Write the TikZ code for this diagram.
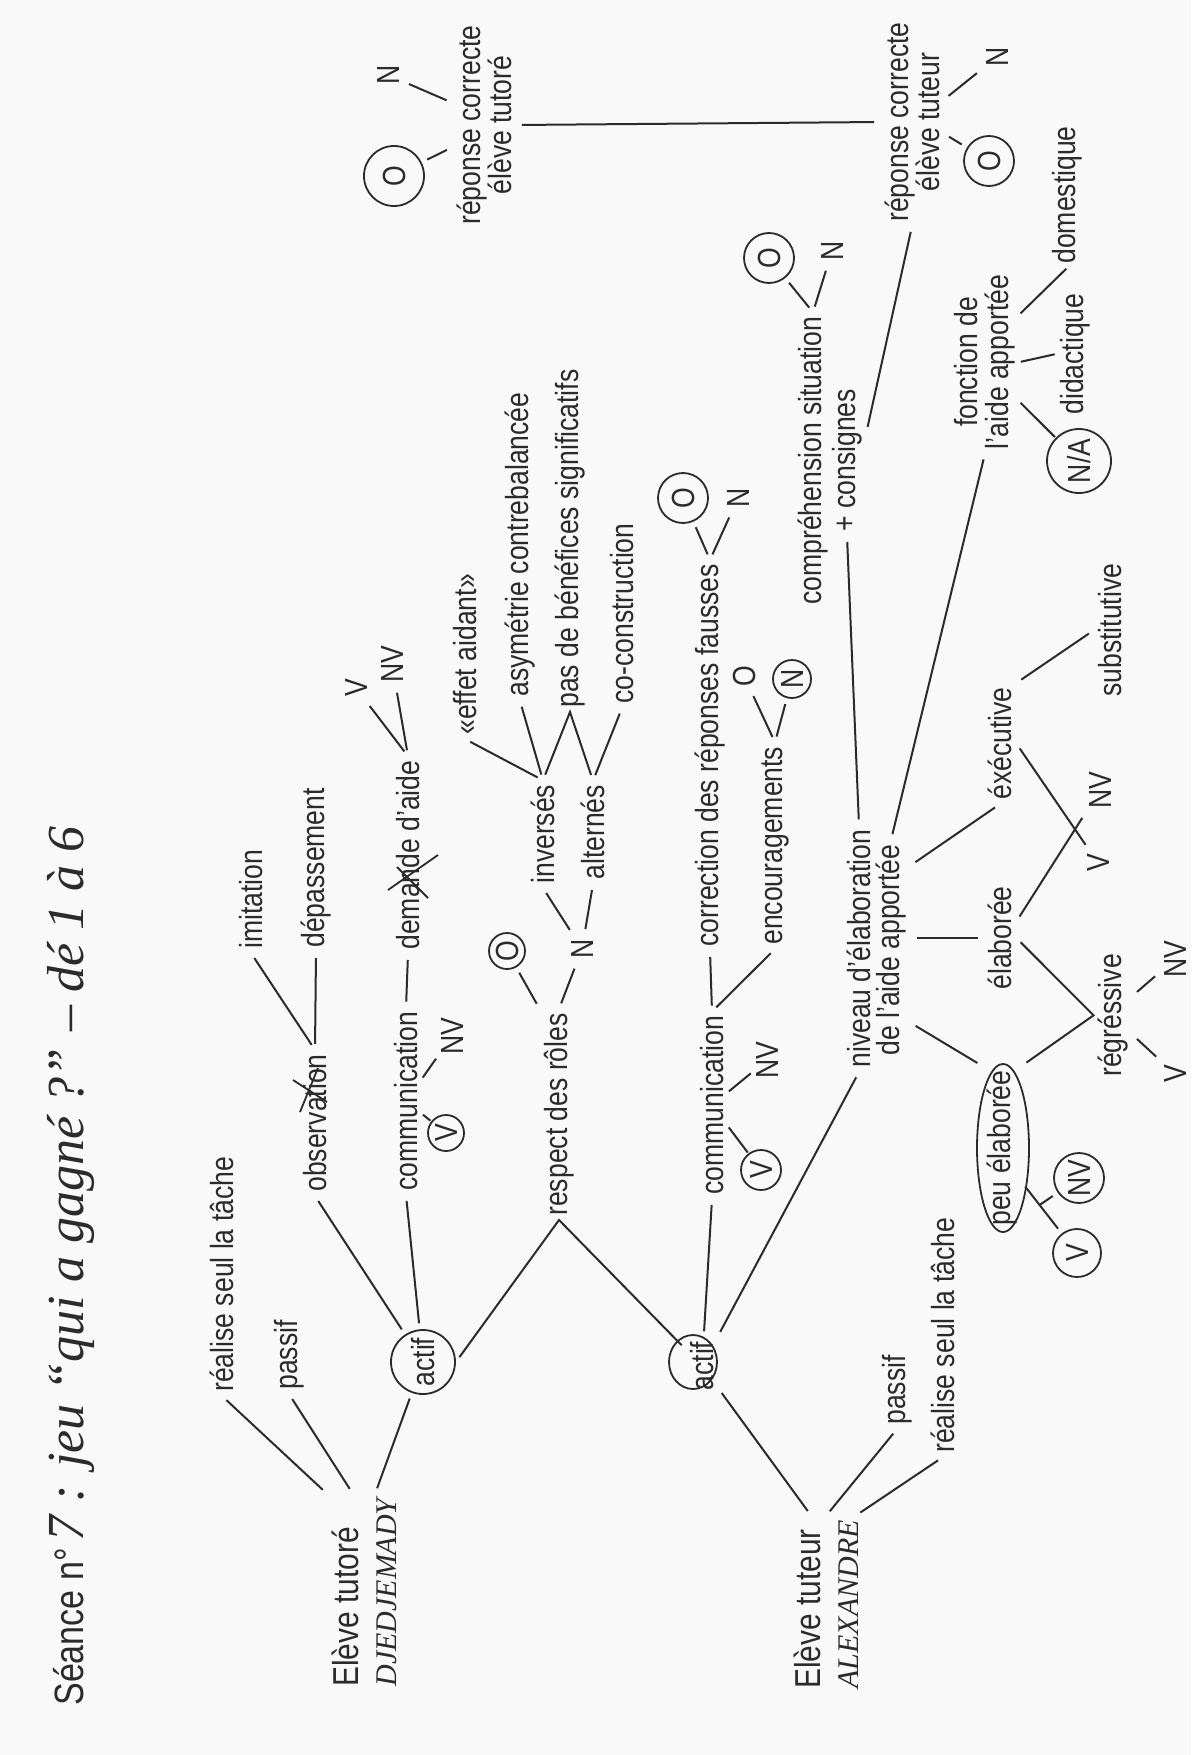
\documentclass[tikz,border=0pt]{standalone}
\usepackage{fontspec}
\setmainfont{Liberation Sans}[FakeStretch=0.83]
\newfontfamily\handfont{Liberation Serif}
\usetikzlibrary{calc}
\newcommand\etiq{\fontsize{16}{15.5}\selectfont}
\newcommand\grand{\fontsize{18}{19}\selectfont}
\newcommand\titre{\fontsize{20.5}{22}\selectfont}
\newcommand\ecrit{\handfont\itshape\fontsize{26}{28}\selectfont}
\newcommand\nom{\handfont\itshape\fontsize{15}{19}\selectfont}
\definecolor{encre}{gray}{0.17}
\definecolor{papier}{gray}{0.975}
\tikzset{
  lbl/.style={rotate=90, inner sep=2pt, font=\etiq, text=encre},
  entoure/.style={draw=encre, circle, line width=.9pt, inner sep=0pt, minimum size=#1},
  trait/.style={draw=encre, line width=1pt, shorten <=3pt, shorten >=3pt},
  court/.style={shorten <=.5pt, shorten >=.5pt},
  pen/.style={draw=encre, line width=.9pt},
}
\begin{document}
\begin{tikzpicture}[x=0.5pt, y=-0.5pt]
  \fill[papier] (0,0) rectangle (1191,1755);
  % title
  \node[lbl, anchor=west, font=\titre] (titre) at (71,1710) {Séance n°\,{\ecrit 7 : jeu “qui a gagné ?” – dé 1 à 6}};
  % eleve tutore
  \node[lbl, anchor=west, align=left, font=\grand] (eleveT) at (364,1691) {Elève tutoré\\{\nom DJEDJEMADY}};
  \node[lbl, anchor=west] (realT) at (222,1396) {réalise seul la tâche};
  \node[lbl, anchor=west] (passT) at (289,1394) {passif};
  \node[lbl, entoure=32pt] (actT) at (423,1362) {actif};
  \node[lbl, anchor=west] (obsT) at (315,1196) {observation};
  \node[lbl, anchor=west] (imitT) at (251,953) {imitation};
  \node[lbl, anchor=west] (depT) at (316,952) {dépassement};
  \node[lbl, anchor=west] (commT) at (406,1195) {communication};
  \node[lbl, anchor=west] (demT) at (408,954) {demande d’aide};
  \node[lbl] (vD) at (356,688) {V};
  \node[lbl] (nvD) at (392,664) {NV};
  \node[lbl, entoure=18pt] (vC1) at (446,1133) {V};
  \node[lbl] (nvC1) at (452,1036) {NV};
  \node[lbl, anchor=west] (respT) at (559,1220) {respect des rôles};
  \node[lbl, entoure=18pt] (oR) at (507,951) {O};
  \node[lbl] (nR) at (582,949) {N};
  \node[lbl, anchor=west] (invT) at (543,888) {inversés};
  \node[lbl, anchor=west] (altT) at (593,884) {alternés};
  \node[lbl, anchor=west] (effT) at (465,739) {«effet aidant»};
  \node[lbl, anchor=west] (asymT) at (520,701) {asymétrie contrebalancée};
  \node[lbl, anchor=west] (pasT) at (570,712) {pas de bénéfices significatifs};
  \node[lbl, anchor=west] (coT) at (622,708) {co-construction};
  % eleve tuteur
  \node[lbl, anchor=west, align=left, font=\grand] (eleveU) at (826,1693) {Elève tuteur\\{\nom ALEXANDRE}};
  \node[lbl] (actU) at (702,1366) {actif};
  \node[lbl, anchor=west] (passU) at (897,1429) {passif};
  \node[lbl, anchor=west] (realU) at (943,1457) {réalise seul la tâche};
  \node[lbl, anchor=west] (commU) at (712,1199) {communication};
  \node[lbl, anchor=west] (corrT) at (710,951) {correction des réponses fausses};
  \node[lbl, anchor=west] (encT) at (775,949) {encouragements};
  \node[lbl] (oE) at (744,676) {O};
  \node[lbl, entoure=19pt] (nE) at (792,679) {N};
  \node[lbl, entoure=25pt] (oC) at (683,498) {O};
  \node[lbl] (nC) at (738,498) {N};
  \node[lbl, entoure=20pt] (vC2) at (761,1170) {V};
  \node[lbl] (nvC2) at (767,1060) {NV};
  \node[lbl, anchor=west] (nivT) at (859,1072) {niveau d’élaboration};
  \node[lbl, anchor=west] (aideT) at (891,1060) {de l’aide apportée};
  \node[lbl, anchor=west] (compT) at (813,609) {compréhension situation};
  \node[lbl, anchor=west] (consT) at (847,536) {+ consignes};
  \node[lbl, entoure=25pt] (oCo) at (769,258) {O};
  \node[lbl] (nCo) at (832,251) {N};
  % reponses correctes
  \node[lbl, align=center] (repTt) at (484,125) {réponse correcte\\élève tutoré};
  \node[lbl, align=center] (repTu) at (912,122) {réponse correcte\\élève tuteur};
  \node[lbl, entoure=30pt] (oRT) at (394,176) {O};
  \node[lbl] (nRT) at (388,75) {N};
  \node[lbl, entoure=25pt] (oRU) at (989,161) {O};
  \node[lbl] (nRU) at (997,57) {N};
  % fonction de l'aide
  \node[lbl, align=center] (fonT) at (985,362) {fonction de\\l’aide apportée};
  \node[lbl, entoure=32pt] (naT) at (1079,461) {N/A};
  \node[lbl, anchor=west] (didT) at (1075,419) {didactique};
  \node[lbl, anchor=west] (domT) at (1067,268) {domestique};
  % niveau de l'aide
  \node[lbl, anchor=west] (execT) at (1000,804) {éxécutive};
  \node[lbl, anchor=west] (subT) at (1110,701) {substitutive};
  \node[lbl, anchor=west] (elabT) at (1000,994) {élaborée};
  \node[lbl] (peuT) at (1002,1148) {peu élaborée};
  \node[lbl, anchor=west] (regT) at (1113,1081) {régréssive};
  \node[lbl] (vE) at (1098,863) {V};
  \node[lbl] (nvE) at (1100,790) {NV};
  \node[lbl] (vR) at (1175,1074) {V};
  \node[lbl] (nvR) at (1175,959) {NV};
  \node[lbl, entoure=25pt] (nvP) at (1079,1178) {NV};
  \node[lbl, entoure=24pt] (vP) at (1077,1253) {V};
  % hand circles
  \draw[pen] (actU) ++(-9,-4) ellipse [x radius=12pt, y radius=13.5pt];
  \draw[pen] (peuT) ++(1,0) ellipse [x radius=13pt, y radius=42pt];
  % crossed words
  \draw[pen] ($(obsT.west)+(-22,-116)$) -- ++(34,22) ($(obsT.west)+(-15,-84)$) -- ++(18,-44);
  \draw[pen] ($(demT.west)+(-20,-64)$) -- ++(50,-35) ($(demT.west)+(-11,-87)$) -- ++(31,31);
  % tutore links
  \draw[trait] (eleveT.north east) -- (realT.west);
  \draw[trait] ($(eleveT.north east)!.7!(eleveT.east)$) -- (passT.west);
  \draw[trait] ($(eleveT.east)!.3!(eleveT.south east)$) -- (actT);
  \draw[trait] (actT) -- (obsT.west);
  \draw[trait] (actT) -- (commT.west);
  \draw[trait] (actT.south) -- (respT.west) -- (actU);
  \draw[trait] (obsT.east) -- (imitT.west);
  \draw[trait] (obsT.east) -- (depT.west);
  \draw[trait] (commT.east) -- (demT.west);
  \draw[trait] (demT.east) -- (vD);
  \draw[trait] (demT.east) -- (nvD);
  \draw[trait, court] (commT) -- (vC1);
  \draw[trait, court] (commT) -- (nvC1);
  \draw[trait] (respT.north east) -- (oR);
  \draw[trait] (respT.east) -- (nR);
  \draw[trait] (nR) -- (invT.west);
  \draw[trait] (nR) -- (altT.west);
  \draw[trait] (invT.east) -- (effT.west);
  \draw[trait] (invT.east) -- (asymT.west);
  \draw[trait] (invT.east) -- (pasT.west) -- (altT.east);
  \draw[trait] (altT.east) -- (coT.west);
  % tuteur links
  \draw[trait] ($(eleveU.north east)!.6!(eleveU.east)$) -- (actU);
  \draw[trait] (eleveU.east) -- (passU.west);
  \draw[trait] ($(eleveU.east)!.8!(eleveU.south east)$) -- (realU.west);
  \draw[trait] (actU) -- (commU.west);
  \draw[trait] (actU) -- (nivT.west);
  \draw[trait] (commU.east) -- (corrT.west);
  \draw[trait] (commU.east) -- (encT.west);
  \draw[trait, court] (commU) -- (vC2);
  \draw[trait, court] (commU) -- (nvC2);
  \draw[trait] (encT.east) -- (oE);
  \draw[trait] (encT.east) -- (nE);
  \draw[trait] (corrT.east) -- (oC);
  \draw[trait] (corrT.east) -- (nC);
  \draw[trait] (nivT.east) -- (consT.west);
  \draw[trait] (aideT.east) -- (fonT.west);
  \draw[trait] (aideT.-13) -- (execT.west);
  \draw[trait] (aideT.south |- elabT.north) -- (elabT.north);
  \draw[trait] (aideT.-165) -- (peuT.north east);
  \draw[trait] (compT.east) -- (oCo);
  \draw[trait] (compT.east) -- (nCo);
  \draw[trait] (consT.-35) -- (repTu.west);
  \draw[trait] (repTt.south) -- (repTu.north);
  \draw[trait] (repTt.125) -- (oRT);
  \draw[trait] (repTt.55) -- (nRT);
  \draw[trait] (repTu.-110) -- (oRU);
  \draw[trait] (repTu.-55) -- (nRU);
  \draw[trait, court] (fonT.-139) -- (naT);
  \draw[trait, court] (fonT.south) -- (didT.north);
  \draw[trait, court] (fonT.-36) -- (domT.west);
  \draw[trait] (execT.south east) -- (subT.north);
  \draw[trait] (execT.south) -- (vE);
  \draw[trait] (elabT.-45) -- (nvE);
  \draw[trait] (elabT.south) -- (regT.north) -- (peuT.south east);
  \draw[trait] (regT.-135) -- (vR);
  \draw[trait] (regT.-45) -- (nvR);
  \draw[trait] (peuT.-150) -- (vP) coordinate[pos=.45] (pbr);
  \draw[trait, shorten <=0pt] (pbr) -- (nvP);
\end{tikzpicture}
\end{document}
